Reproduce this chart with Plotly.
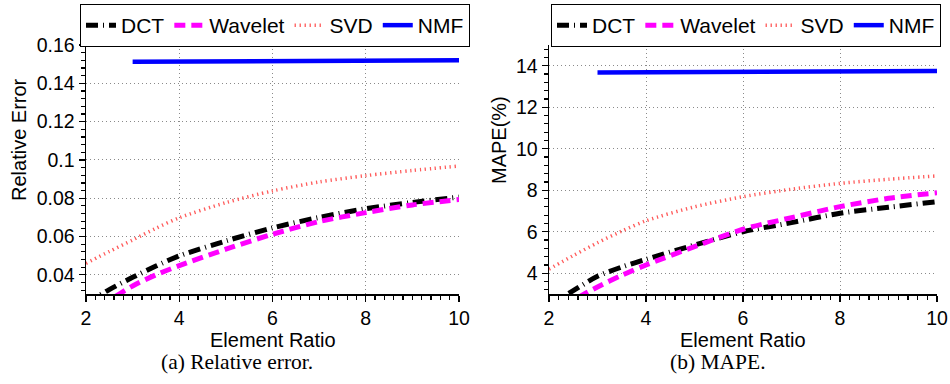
import plotly.graph_objects as go

# ---------------- data ----------------
element_ratio = [2, 2.5, 3, 3.5, 4, 5, 6, 7, 8, 9, 10]
nmf_ratio = [3, 4, 5, 6, 7, 8, 9, 10]

rel_dct = [0.025, 0.0323, 0.0387, 0.0446, 0.0499, 0.0577, 0.0645, 0.0700, 0.0745, 0.0778, 0.0806]
rel_wavelet = [0.020, 0.0268, 0.0342, 0.0400, 0.0448, 0.0534, 0.0612, 0.0678, 0.0725, 0.0765, 0.0793]
rel_svd = [0.046, 0.0522, 0.0582, 0.0643, 0.0698, 0.0777, 0.0838, 0.0885, 0.0918, 0.0945, 0.0968]
rel_nmf = [0.1513, 0.1514, 0.1515, 0.1516, 0.1517, 0.1518, 0.1519, 0.1520]

mape_dct = [2.45, 3.16, 3.85, 4.3, 4.67, 5.36, 6.0, 6.44, 6.89, 7.18, 7.45]
mape_wavelet = [2.0, 2.7, 3.34, 3.9, 4.4, 5.28, 6.12, 6.68, 7.21, 7.61, 7.88]
mape_svd = [4.2, 4.85, 5.47, 6.03, 6.53, 7.2, 7.69, 8.05, 8.33, 8.53, 8.69]
mape_nmf = [13.68, 13.69, 13.70, 13.71, 13.72, 13.73, 13.74, 13.75]

x_ticks = [2, 4, 6, 8, 10]
rel_ticks = [0.04, 0.06, 0.08, 0.1, 0.12, 0.14, 0.16]
rel_tick_labels = ["0.04", "0.06", "0.08", "0.1", "0.12", "0.14", "0.16"]
mape_ticks = [4, 6, 8, 10, 12, 14]

series_names = ["DCT", "Wavelet", "SVD", "NMF"]

# ---------------- styles ----------------
styles = {
    "DCT": dict(color="black", width=5, dash="12px,5px,1px,5px"),
    "Wavelet": dict(color="#ff00ff", width=5, dash="11px,6px"),
    "SVD": dict(color="#ff5a5a", width=3.5, dash="1.3px,3.7px"),
    "NMF": dict(color="#0000ff", width=4.5, dash="solid"),
}

FONT = "Liberation Sans, Arial, sans-serif"
SERIF = "Liberation Serif, Times New Roman, serif"
FS = 20

fig = go.Figure()


def add_panel(xa, ya, legend, ys, nmf):
    for name, y in zip(series_names[:3], ys):
        fig.add_trace(go.Scatter(
            x=element_ratio, y=y, mode="lines", name=name,
            line=dict(shape="spline", smoothing=0.8, **styles[name]),
            xaxis=xa, yaxis=ya, legend=legend, hoverinfo="skip"))
    fig.add_trace(go.Scatter(
        x=nmf_ratio, y=nmf, mode="lines", name="NMF",
        line=dict(**styles["NMF"]),
        xaxis=xa, yaxis=ya, legend=legend, hoverinfo="skip"))


add_panel("x", "y", "legend", [rel_dct, rel_wavelet, rel_svd], rel_nmf)
add_panel("x2", "y2", "legend2", [mape_dct, mape_wavelet, mape_svd], mape_nmf)

W, H = 950, 384
yd = [(H - 294) / H, (H - 45) / H]

common_axis = dict(
    showline=True, linecolor="black", linewidth=1.5,
    ticks="outside", ticklen=6, tickwidth=1.2, tickcolor="black",
    showgrid=True, gridcolor="#8a8a8a", gridwidth=1, griddash="1px,3px",
    zeroline=False, tickfont=dict(family=FONT, size=19.5, color="black"),
    mirror=False, automargin=False,
)

legend_common = dict(orientation="h", xanchor="left", y=1 - 4 / H, yanchor="top",
                     bordercolor="black", borderwidth=1, bgcolor="white",
                     font=dict(family=FONT, size=21, color="black"),
                     itemwidth=30, tracegroupgap=0)

fig.update_layout(
    width=W, height=H,
    margin=dict(l=0, r=0, t=0, b=0, autoexpand=False),
    paper_bgcolor="white", plot_bgcolor="white",
    font=dict(family=FONT, color="black"),
    xaxis=dict(domain=[86 / W, 459 / W], range=[2, 10], tickvals=x_ticks,
               minor=dict(dtick=0.2, ticks="outside", ticklen=4, tickcolor="black", showgrid=False),
               anchor="y", **common_axis),
    yaxis=dict(domain=yd, range=[0.03, 0.16], tickvals=rel_ticks, ticktext=rel_tick_labels,
               minor=dict(dtick=0.004, tick0=0.0, ticks="outside", ticklen=4, tickcolor="black", showgrid=False),
               anchor="x", **common_axis),
    xaxis2=dict(domain=[549 / W, 937 / W], range=[2, 10], tickvals=x_ticks,
                minor=dict(dtick=0.2, ticks="outside", ticklen=4, tickcolor="black", showgrid=False),
                anchor="y2", **common_axis),
    yaxis2=dict(domain=yd, range=[3, 15], tickvals=mape_ticks,
                minor=dict(dtick=0.4, tick0=0, ticks="outside", ticklen=4, tickcolor="black", showgrid=False),
                anchor="x2", **common_axis),
    legend=dict(x=80 / W, **legend_common),
    legend2=dict(x=551 / W, **legend_common),
    showlegend=True,
    hovermode=False,
)

annotations = [
    dict(text="Relative Error", x=19 / W, y=1 - 140 / H, textangle=-90,
         font=dict(family=FONT, size=FS)),
    dict(text="MAPE(%)", x=499 / W, y=1 - 140 / H, textangle=-90,
         font=dict(family=FONT, size=FS)),
    dict(text="Element Ratio", x=273 / W, y=1 - 339.5 / H,
         font=dict(family=FONT, size=FS)),
    dict(text="Element Ratio", x=743 / W, y=1 - 339.5 / H,
         font=dict(family=FONT, size=FS)),
    dict(text="(a) Relative error.", x=237 / W, y=1 - 362 / H,
         font=dict(family=SERIF, size=21.5)),
    dict(text="(b) MAPE.", x=718 / W, y=1 - 362 / H,
         font=dict(family=SERIF, size=21.5)),
]
for a in annotations:
    a.update(xref="paper", yref="paper", showarrow=False, xanchor="center", yanchor="middle")
fig.update_layout(annotations=annotations)

fig.write_html(
    "out.html",
    config={"displayModeBar": False, "staticPlot": True},
    post_script="document.body.style.margin='0';document.body.style.padding='0';"
                "document.body.style.overflow='hidden';",
)
